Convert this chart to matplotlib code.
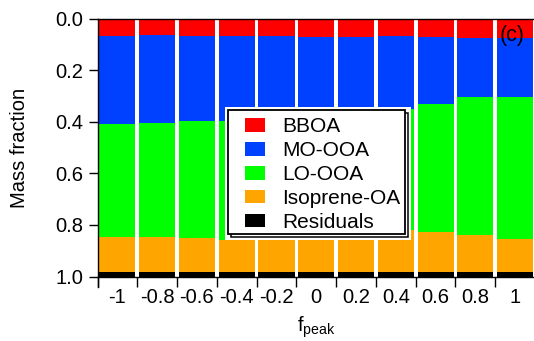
import numpy as np
import matplotlib
matplotlib.use("Agg")
import matplotlib.pyplot as plt
from matplotlib.patches import Rectangle

plt.rcParams['font.family'] = ['Liberation Sans', 'DejaVu Sans']

# f_peak settings and the mass fraction of each factor
f_peak = ["-1", "-0.8", "-0.6", "-0.4", "-0.2", "0", "0.2", "0.4", "0.6", "0.8", "1"]
bboa = [0.068, 0.064, 0.067, 0.068, 0.069, 0.073, 0.072, 0.069, 0.072, 0.076, 0.077]
mo_ooa = [0.342, 0.342, 0.332, 0.328, 0.316, 0.302, 0.293, 0.283, 0.260, 0.230, 0.227]
lo_ooa = [0.435, 0.441, 0.453, 0.462, 0.465, 0.470, 0.475, 0.467, 0.494, 0.535, 0.551]
isoprene_oa = [0.138, 0.136, 0.131, 0.125, 0.133, 0.138, 0.143, 0.164, 0.157, 0.142, 0.128]
residuals = [0.017, 0.017, 0.017, 0.017, 0.017, 0.017, 0.017, 0.017, 0.017, 0.017, 0.017]

series = [
    ("BBOA", bboa, "#ff0000"),
    ("MO-OOA", mo_ooa, "#0040ff"),
    ("LO-OOA", lo_ooa, "#00ff00"),
    ("Isoprene-OA", isoprene_oa, "#ffa500"),
    ("Residuals", residuals, "#000000"),
]

W, H = 534, 341
fig = plt.figure(figsize=(W / 100, H / 100), dpi=100)
ax = fig.add_axes([97.5 / W, (H - 276.5) / H, (535 - 97.5) / W, 258 / H])

x = np.arange(len(f_peak))
bottom = np.zeros(len(f_peak))
handles = []
for name, vals, color in series:
    vals = np.asarray(vals)
    b = ax.bar(x, vals, bottom=bottom, width=0.907, color=color,
               edgecolor='none', label=name, zorder=2)
    handles.append(b)
    bottom += vals

ax.set_xlim(-0.5, 10.5)
ax.set_ylim(1.0, 0.0)

# spines
ax.spines['right'].set_visible(False)
for s in ('left', 'top', 'bottom'):
    ax.spines[s].set_linewidth(1.0)
ax.spines['left'].set_bounds(0.0, 1.04)

# y axis
ax.set_yticks([0.0, 0.2, 0.4, 0.6, 0.8, 1.0])
ax.set_yticklabels(["0.0", "0.2", "0.4", "0.6", "0.8", "1.0"])
ax.tick_params(axis='y', direction='out', length=6.5, width=1.0,
               pad=3.6, labelsize=14.5)
ax.set_ylabel("Mass fraction", fontsize=14.5, labelpad=19)

# x axis: tick marks at bar boundaries, labels at bar centres
ax.set_xticks(np.arange(-0.5, 11.0, 1.0))
ax.set_xticklabels([])
ax.set_xticks(x, minor=True)
ax.set_xticklabels(f_peak, minor=True)
ax.tick_params(axis='x', which='major', direction='out', length=7.5, width=1.0)
ax.tick_params(axis='x', which='minor', length=0, pad=8.0, labelsize=14.5)
ax.set_xlabel(r"$\mathregular{f_{peak}}$", fontsize=14.5, labelpad=5.5)

ax.text(0.947, 0.936, "(c)", transform=ax.transAxes, fontsize=15.5,
        ha='center', va='center', zorder=6)

leg = ax.legend(handles=handles, loc='upper left',
                bbox_to_anchor=(0.337, 0.617), borderaxespad=0,
                fontsize=15, handlelength=0.96, handleheight=0.62,
                handletextpad=0.84, labelspacing=0.235, borderpad=0,
                frameon=False)
leg.set_zorder(10)

# legend box: white margin, drop shadow and main frame (axes fractions)
fl, fr, ft, fb = 0.2983, 0.7029, 0.6453, 0.1628
sx, sy = 3 / 437.5, 3 / 258
ax.add_patch(Rectangle((fl - sx, fb - 2 * sy), (fr - fl) + 3 * sx, (ft - fb) + 3 * sy,
                       transform=ax.transAxes, facecolor='white',
                       edgecolor='none', zorder=7))
ax.add_patch(Rectangle((fl + sx, fb - sy), fr - fl, ft - fb,
                       transform=ax.transAxes, facecolor='white',
                       edgecolor='black', lw=1.1, zorder=8))
ax.add_patch(Rectangle((fl, fb), fr - fl, ft - fb,
                       transform=ax.transAxes, facecolor='white',
                       edgecolor='black', lw=1.3, zorder=9))

fig.savefig("out.png", dpi=100)
